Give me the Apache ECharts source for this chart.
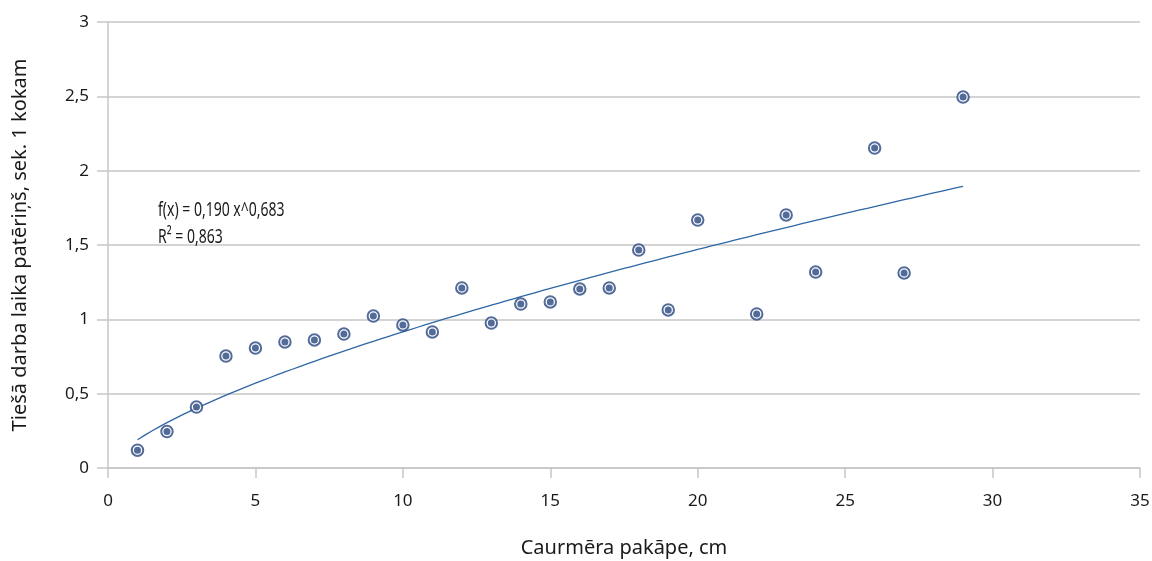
<!DOCTYPE html>
<html>
<head>
<meta charset="utf-8">
<script src="https://cdn.jsdelivr.net/npm/echarts@6/dist/echarts.min.js"></script>
<style>
  html, body { margin: 0; padding: 0; background: #ffffff; overflow: hidden; }
  #chart { width: 1152px; height: 561px; }
</style>
</head>
<body>
<div id="chart"></div>
<script>
// Diameter class (cm) and direct work time per tree (s)
const diameterClass = [1, 2, 3, 4, 5, 6, 7, 8, 9, 10, 11, 12, 13, 14, 15, 16, 17, 18, 19, 20, 22, 23, 24, 26, 27, 29];
const timePerTree = [0.12, 0.245, 0.41, 0.753, 0.807, 0.848, 0.861, 0.901, 1.022, 0.962, 0.915, 1.211, 0.975, 1.103, 1.117, 1.204, 1.211, 1.466, 1.063, 1.668, 1.036, 1.702, 1.318, 2.152, 1.312, 2.495];

// Power trend line f(x) = a * x^b, as stated in the annotation
const trendA = 0.190;
const trendB = 0.683;
const trendR2 = 0.863;
const trendFrom = 1;
const trendTo = 29;

const xAxisTitle = 'Caurmēra pakāpe, cm';
const yAxisTitle = 'Tiešā darba laika patēriņš, sek. 1 kokam';

const fmt = (v, d) => v.toFixed(d).replace('.', ',');

const trendPoints = [];
for (let i = 0; i <= 112; i++) {
  const x = trendFrom + (trendTo - trendFrom) * i / 112;
  trendPoints.push([x, trendA * Math.pow(x, trendB)]);
}

const points = diameterClass.map((x, i) => [x, timePerTree[i]]);

const FONT = '"Noto Sans", "DejaVu Sans", sans-serif';
const TEXT = '#1a1a1a';
const GRID = '#c6c6c6';
const MARK = '#27467f';

const chart = echarts.init(document.getElementById('chart'), null, { renderer: 'canvas' });
chart.setOption({
  animation: false,
  backgroundColor: '#ffffff',
  grid: { left: 108, right: 12, top: 22, bottom: 93, containLabel: false, outerBoundsMode: 'none' },
  xAxis: {
    type: 'value', min: 0, max: 35, interval: 5,
    name: xAxisTitle, nameLocation: 'middle', nameGap: 70,
    nameTextStyle: { fontFamily: FONT, fontSize: 20, color: TEXT },
    axisLine: { show: true, onZero: false, lineStyle: { color: GRID, width: 1.5 } },
    axisTick: { show: true, inside: false, length: 10, lineStyle: { color: GRID, width: 1.5 } },
    axisLabel: { margin: 25, fontFamily: FONT, fontSize: 17, color: TEXT, formatter: v => fmt(v, 0) },
    splitLine: { show: false }
  },
  yAxis: {
    type: 'value', min: 0, max: 3, interval: 0.5,
    name: yAxisTitle, nameLocation: 'middle', nameGap: 78, nameRotate: 90,
    nameTextStyle: { fontFamily: FONT, fontSize: 20, color: TEXT },
    axisLine: { show: true, lineStyle: { color: GRID, width: 1.5 } },
    axisTick: { show: true, inside: false, length: 11, lineStyle: { color: GRID, width: 1.5 } },
    axisLabel: { margin: 19, fontFamily: FONT, fontSize: 17, color: TEXT,
      formatter: v => (Number.isInteger(v) ? String(v) : fmt(v, 1)) },
    splitLine: { show: true, lineStyle: { color: GRID, width: 1.5 } }
  },
  graphic: [
    {
      type: 'text', x: 158, y: 197, z: 10, scaleX: 0.7, originX: 0, originY: 0,
      style: {
        text: 'f(x) = ' + fmt(trendA, 3) + ' x^' + fmt(trendB, 3) + '\nR² = ' + fmt(trendR2, 3),
        fontFamily: FONT, fontSize: 20, fill: TEXT, lineHeight: 27,
        align: 'left', verticalAlign: 'top'
      }
    }
  ],
  series: [
    {
      name: 'trend', type: 'line', data: trendPoints, showSymbol: false, smooth: false,
      lineStyle: { color: '#2f66a6', width: 1.3 }, z: 2, silent: true
    },
    {
      name: 'ring', type: 'scatter', data: points, symbol: 'circle', symbolSize: 11.5,
      itemStyle: { color: '#ffffff', borderColor: MARK, borderWidth: 2 }, z: 3
    },
    {
      name: 'dot', type: 'scatter', data: points, symbol: 'circle', symbolSize: 7,
      itemStyle: { color: MARK }, z: 4
    }
  ]
});
</script>
</body>
</html>
